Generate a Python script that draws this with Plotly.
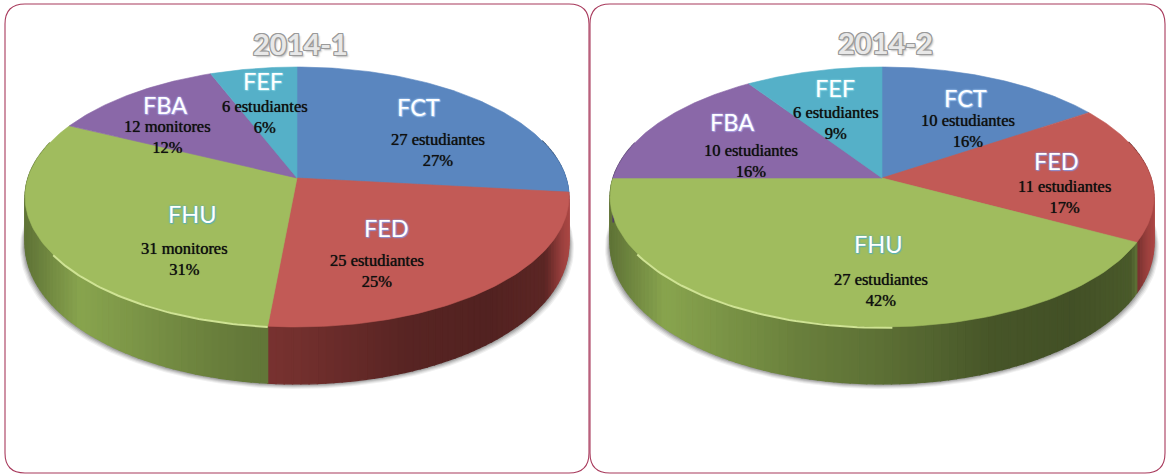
import numpy as np
import plotly.graph_objects as go

# ---- data ----
faculties = ["FCT", "FED", "FHU", "FBA", "FEF"]
titles = ["2014-1", "2014-2"]
values_2014_1 = [27, 25, 31, 12, 6]
values_2014_2 = [10, 11, 27, 10, 6]
units_2014_1 = ["estudiantes", "estudiantes", "monitores", "monitores", "estudiantes"]
units_2014_2 = ["estudiantes", "estudiantes", "estudiantes", "estudiantes", "estudiantes"]
pct_2014_1 = ["27%", "25%", "31%", "12%", "6%"]
pct_2014_2 = ["16%", "17%", "42%", "16%", "9%"]

# ---- styles and layout ----
colors = ["#5a86bf", "#c25a56", "#a0bc5e", "#8a68a8", "#55b0c8"]
wall_rgb = [(79, 129, 189), (192, 80, 77), (155, 187, 89), (128, 100, 162), (75, 172, 198)]
glow = ["#9ec4ee", "#8f8fd0", "#58b0b8", "#a9a0e0", "#7fd0e0"]
centers = [(297, 178), (882, 178)]
title_pos = [(300, 43), (885, 42)]
name_pos = [
    [(418, 107), (386, 228), (192, 214), (165, 105), (263, 81)],
    [(965, 98), (1056, 161), (878, 244), (732, 122), (835, 88)],
]
text_pos = [
    [(438, 150), (377, 271), (184, 259), (167, 137), (265, 117)],
    [(968, 131), (1064, 197), (881, 290), (751, 161), (836, 123)],
]
A, B, K = 269.0, 127.2, 0.146   # perspective projection of the disc
BORDER = "#a83a5c"
SERIF = "Liberation Serif"
SANS = "Lato"

shade_t = [0.0, 0.03, 0.10, 0.35, 0.50, 0.70, 0.85, 0.955, 0.985, 1.0]
shade_f = [0.62, 0.70, 0.88, 0.68, 0.60, 0.46, 0.43, 0.48, 0.80, 0.90]


def project(cx, cy, theta):
    u, v = np.sin(theta), np.cos(theta)
    w = 1 + K * v
    return cx + A * u / w, cy - B * v / w


def depth(theta):
    return 44.5 - 12.5 * np.cos(theta)


def polygon(x, y, color, line=0.6):
    return go.Scatter(
        x=list(x), y=list(y), mode="lines", fill="toself", fillcolor=color,
        line=dict(color=color, width=line), hoverinfo="skip", showlegend=False,
    )


fig = go.Figure()
all_values = [values_2014_1, values_2014_2]
all_units = [units_2014_1, units_2014_2]
all_pct = [pct_2014_1, pct_2014_2]

for p, vals in enumerate(all_values):
    cx, cy = centers[p]
    edges = np.concatenate([[0], np.cumsum(vals)]) / sum(vals) * 2 * np.pi
    # soft shadow below the disc
    th = np.linspace(0, 2 * np.pi, 240)
    sx, sy = project(cx, cy, th)
    sy = sy + depth(th)
    for off, alpha in [(5, 0.10), (4, 0.14), (3, 0.2), (2, 0.28), (1, 0.35)]:
        fig.add_trace(polygon(cx + (sx - cx) * (1 + off / 270), sy + off,
                              f"rgba(110,110,110,{alpha})", line=0))
    # wall strips, drawn as overlapping pieces from each slice start so no seams show
    for i in range(len(vals)):
        a0, a1 = edges[i], edges[i + 1]
        n = max(2, int(np.degrees(a1 - a0) / 1.5))
        grid = np.linspace(a0, a1, n + 1)
        for t0, t1 in zip(grid[:-1], grid[1:]):
            mid = (t0 + t1) / 2
            if np.cos(mid) > 0.3:
                continue
            x0, y0 = project(cx, cy, t0)
            x1, y1 = project(cx, cy, t1)
            tx = (project(cx, cy, mid)[0] - (cx - 272)) / 544
            f = np.interp(tx, shade_t, shade_f)
            r, g, b = wall_rgb[i]
            col = f"rgb({int(r * f)},{int(g * f)},{int(b * f)})"
            fig.add_trace(polygon([x0, x1, x1, x0, x0],
                                  [y0, y1, y1 + depth(t1), y0 + depth(t0), y0], col, line=1.3))
    # top surface
    for i in range(len(vals)):
        th = np.linspace(edges[i], edges[i + 1], 90)
        x, y = project(cx, cy, th)
        fig.add_trace(polygon(np.r_[cx, x, cx], np.r_[cy, y, cy], colors[i]))
    # rim highlight along the front edge of the largest green slice
    i = faculties.index("FHU")
    th = np.linspace(edges[i], edges[i + 1], 120)
    x, y = project(cx, cy, th)
    tx = (x - (cx - 272)) / 544
    keep = (tx > 0.05) & (tx < 0.52) & (np.cos(th) < 0)
    fig.add_trace(go.Scatter(x=x[keep], y=y[keep] + 0.8, mode="lines",
                             line=dict(color="#cfe394", width=2),
                             hoverinfo="skip", showlegend=False))

annotations = []


def add_text(x, y, text, size, color, family, shadow=None, bold=False):
    annotations.append(dict(
        x=x, y=y, xref="x", yref="y", text=f"<b>{text}</b>" if bold else text,
        showarrow=False, xanchor="center", yanchor="middle", align="center",
        font=dict(size=size, color=color, family=family, shadow=shadow or "none"),
    ))


for p in range(2):
    outline = ",".join(f"{dx}px {dy}px 0 #9a9a9a" for dx, dy in
                       [(-1, 0), (1, 0), (0, -1), (0, 1), (-1, -1), (1, 1), (1, -1), (-1, 1)])
    add_text(*title_pos[p], titles[p], 29, "#e8e8e8", SANS, outline + ",2px 2px 2px #bbb", bold=True)
    for i, name in enumerate(faculties):
        add_text(*name_pos[p][i], name, 23.5, "#ffffff", SANS,
                 f"0 0 2px {glow[i]},0 0 2px {glow[i]},1px 1px 1px {glow[i]}")
        label = f"{all_values[p][i]} {all_units[p][i]}<br>{all_pct[p][i]}"
        add_text(*text_pos[p][i], label, 16.5, "#101010", SERIF, "0 0 0.7px #111")


def card(x0, y0, x1, y1, r):
    return dict(
        type="path", xref="x", yref="y", layer="below",
        line=dict(color=BORDER, width=1.1),
        path=(f"M{x0 + r},{y0} L{x1 - r},{y0} Q{x1},{y0} {x1},{y0 + r} "
              f"L{x1},{y1 - r} Q{x1},{y1} {x1 - r},{y1} L{x0 + r},{y1} "
              f"Q{x0},{y1} {x0},{y1 - r} L{x0},{y0 + r} Q{x0},{y0} {x0 + r},{y0} Z"),
    )


fig.update_layout(
    width=1166, height=474, margin=dict(l=0, r=0, t=0, b=0),
    paper_bgcolor="white", plot_bgcolor="white", showlegend=False,
    xaxis=dict(range=[0, 1166], visible=False, fixedrange=True),
    yaxis=dict(range=[474, 0], visible=False, fixedrange=True),
    annotations=annotations,
    shapes=[card(5, 4, 589, 473, 20), card(590, 4, 1165, 473, 20)],
)

fig.write_html(
    "out.html",
    config={"displayModeBar": False},
    post_script="document.body.style.margin='0';document.body.style.overflow='hidden';",
)
